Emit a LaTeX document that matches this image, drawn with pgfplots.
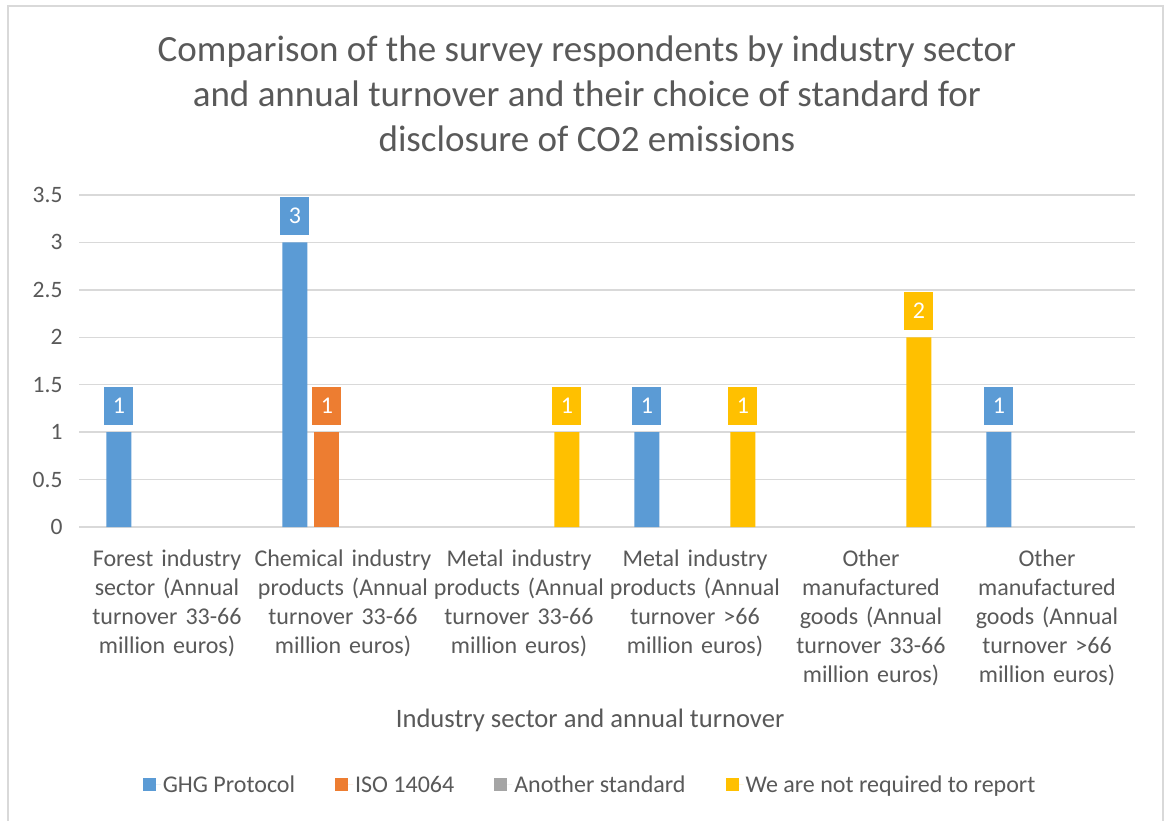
\documentclass[border=0pt]{standalone}
\usepackage{fontspec}
\setmainfont{Carlito}
\usepackage{pgfplots}
\pgfplotsset{compat=1.18}
\hyphenpenalty=10000
\exhyphenpenalty=10000
\definecolor{cblue}{HTML}{5B9BD5}
\definecolor{corange}{HTML}{ED7D31}
\definecolor{cgray}{HTML}{A5A5A5}
\definecolor{cyellow}{HTML}{FFC000}
\definecolor{textgray}{HTML}{595959}
\definecolor{gridgray}{HTML}{D9D9D9}
\begin{document}
\begin{tikzpicture}
\path[use as bounding box, fill=white] (0,0) rectangle (1164pt,820pt);
\draw[gridgray, line width=1.5pt] (8pt,-2pt) -- (8pt,814pt) -- (1163pt,814pt) -- (1163pt,-2pt);
\begin{axis}[
  at={(79pt,293pt)}, anchor=south west,
  width=1056pt, height=332pt, scale only axis,
  ybar, bar width=25pt,
  xmin=-0.5, xmax=5.5, ymin=0, ymax=3.5,
  xtick={0,1,2,3,4,5},
  xticklabels={
    Forest industry sector (Annual turnover 33-66 million euros),
    Chemical industry products (Annual turnover 33-66 million euros),
    Metal industry products (Annual turnover 33-66 million euros),
    Metal industry products (Annual turnover >66 million euros),
    Other manufactured goods (Annual turnover 33-66 million euros),
    Other manufactured goods (Annual turnover >66 million euros)},
  ytick={0,0.5,1,1.5,2,2.5,3,3.5},
  /pgf/number format/assume math mode=true,
  ymajorgrids, grid style={gridgray, line width=1.5pt},
  axis x line*=bottom, axis y line*=left,
  x axis line style={gridgray, line width=1.5pt},
  y axis line style={draw=none},
  major tick length=0pt,
  tick style={draw=none},
  yticklabel style={font=\fontsize{23.5}{28}\selectfont, text=textgray, xshift=-13pt},
  xticklabel style={font=\fontsize{24}{29}\selectfont, text=textgray, text width=181pt, align=center, anchor=north, yshift=-19pt},
  xlabel={Industry sector and annual turnover},
  xlabel style={at={(axis description cs:0.484,-0.584)}, anchor=center, font=\fontsize{26.6}{32}\selectfont, text=textgray},
  title={Comparison of the survey respondents by industry sector\\and annual turnover and their choice of standard for\\disclosure of CO2 emissions},
  title style={at={(axis description cs:0.481,1.286)}, anchor=center, align=center, font=\fontsize{37}{45}\selectfont, text=textgray},
  nodes near coords,
  every node near coord/.append style={font=\fontsize{24}{29}\selectfont, text=white, minimum width=29pt, minimum height=38pt, inner sep=0pt, anchor=south, yshift=7pt},
  legend columns=4,
  legend image code/.code={\fill[#1] (0pt,-6.5pt) rectangle (13pt,6.5pt); \path (13pt,0pt) -- (18pt,0pt);},
  legend style={at={(axis description cs:0.484,-0.777)}, anchor=center, draw=none, fill=none, font=\fontsize{24}{29}\selectfont, text=textgray, /tikz/every even column/.append style={column sep=38pt}},
]
\addplot[fill=cblue, draw=none, bar shift=-48pt, every node near coord/.append style={fill=cblue}]
  coordinates {(0,1) (1,3) (3,1) (5,1)};
\addlegendentry{GHG Protocol}
\addplot[fill=corange, draw=none, bar shift=-16pt, every node near coord/.append style={fill=corange}]
  coordinates {(1,1)};
\addlegendentry{ISO 14064}
\addlegendimage{fill=cgray, draw=none}
\addlegendentry{Another standard}
\addplot[fill=cyellow, draw=none, bar shift=48pt, every node near coord/.append style={fill=cyellow}]
  coordinates {(2,1) (3,1) (4,2)};
\addlegendentry{We are not required to report}
\end{axis}
\end{tikzpicture}
\end{document}
